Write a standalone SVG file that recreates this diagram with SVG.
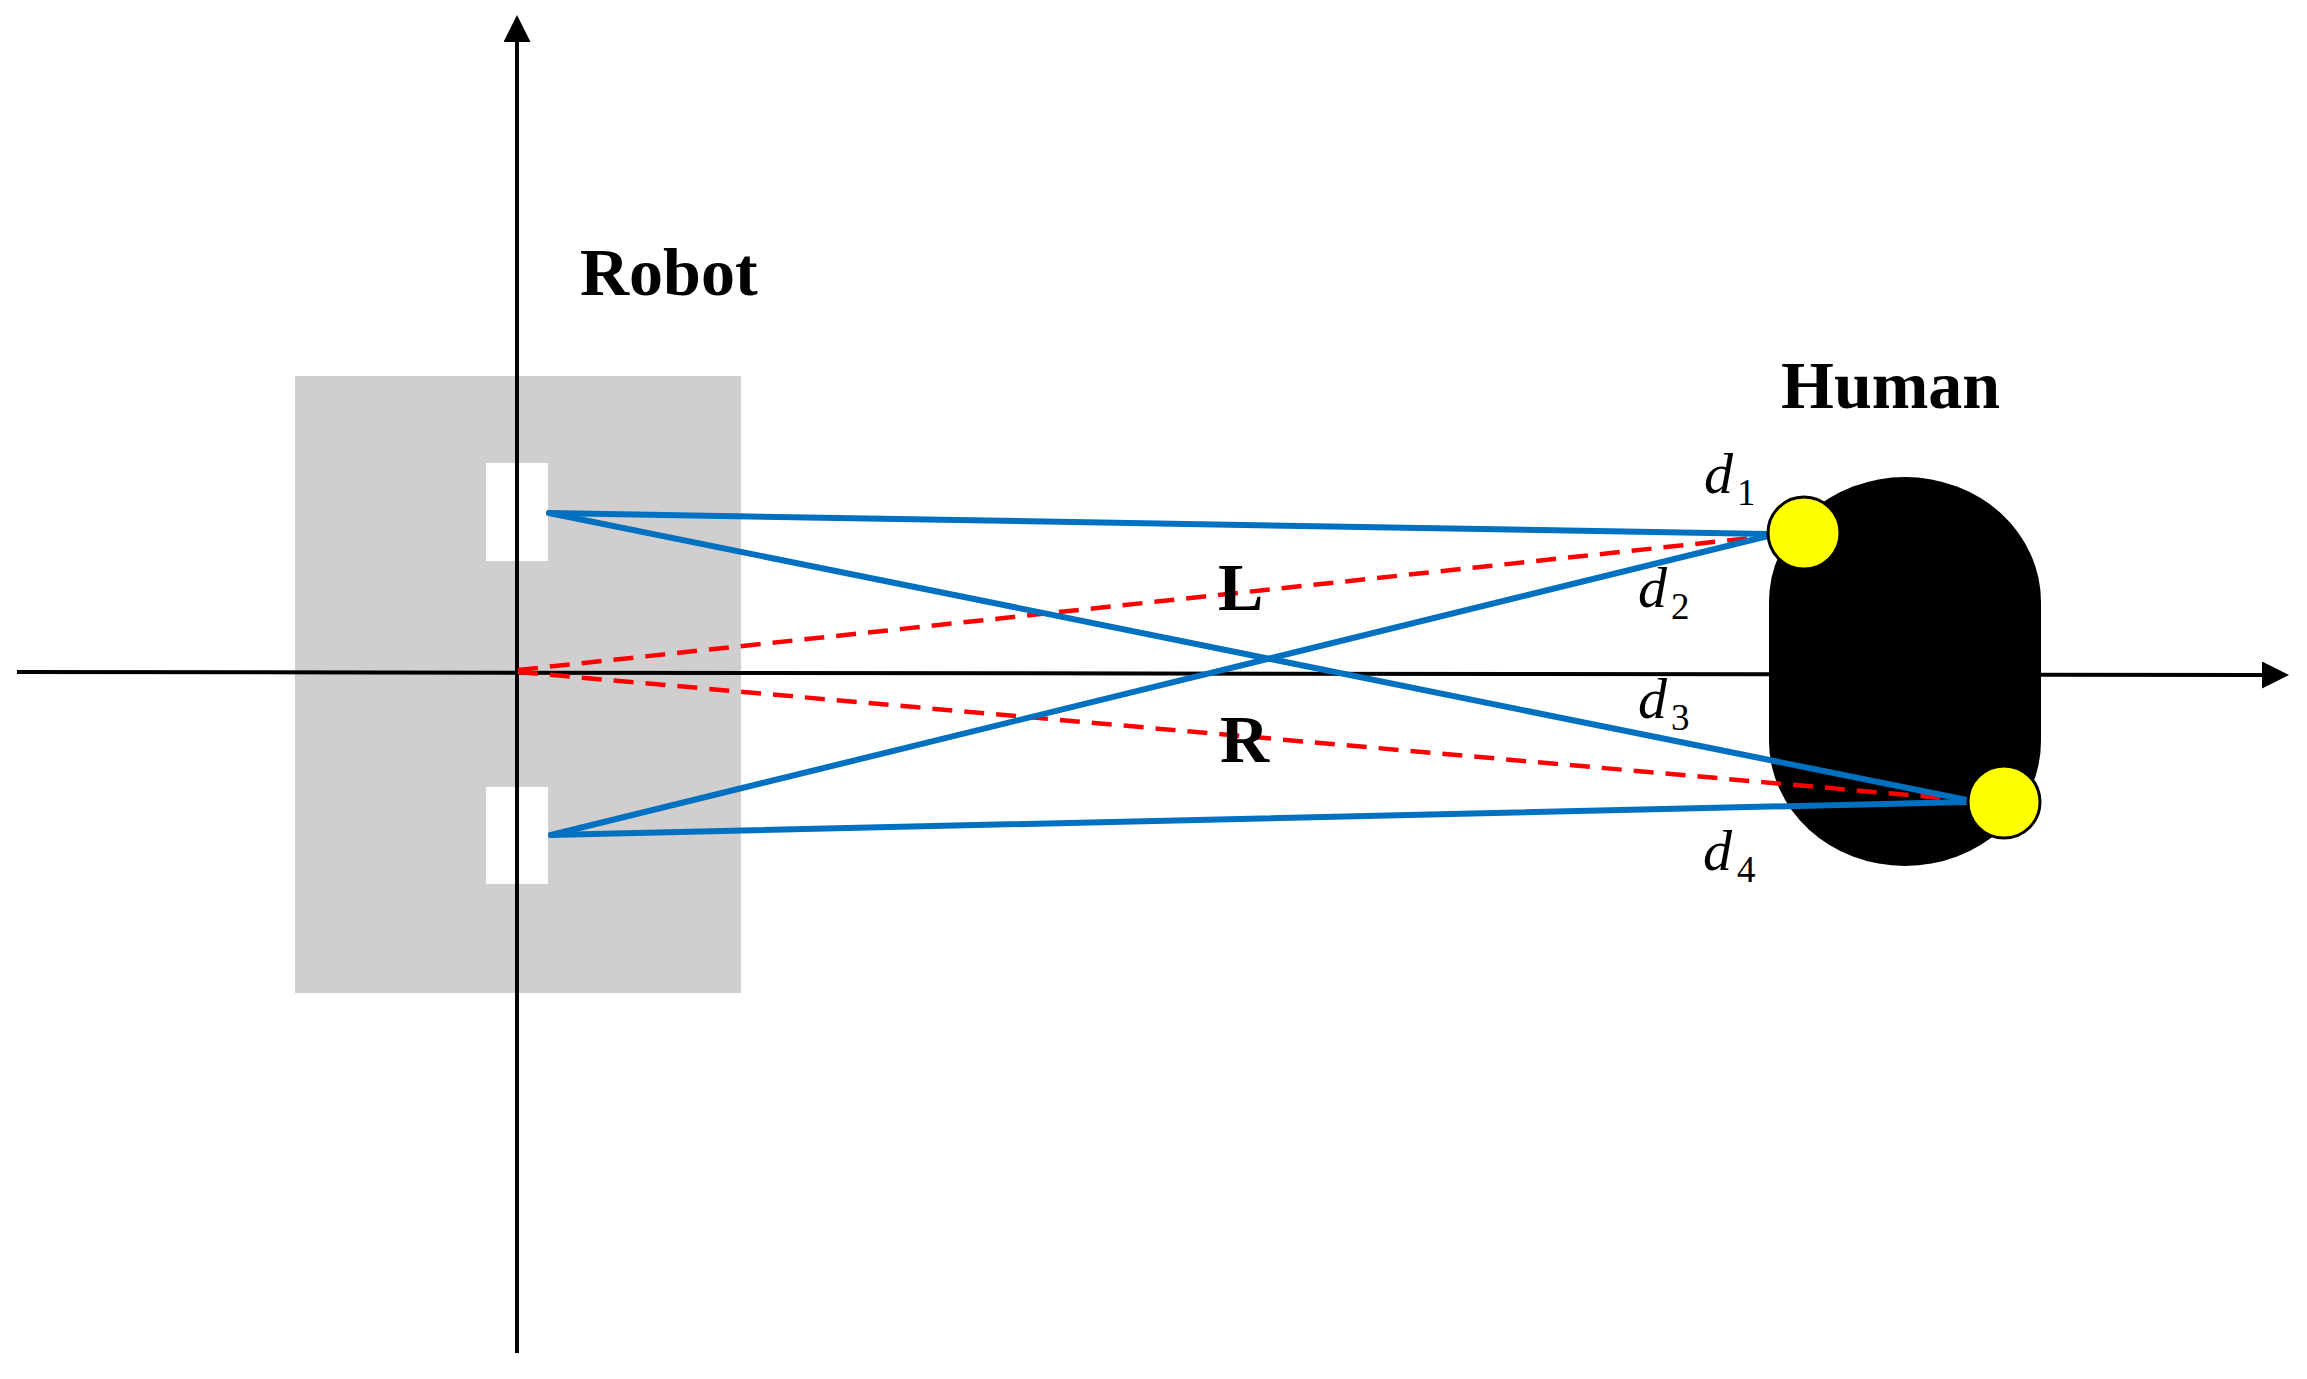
<svg xmlns="http://www.w3.org/2000/svg" width="2307" height="1379" viewBox="0 0 2307 1379">
  <style>
    .axis { stroke: #000; stroke-width: 4; fill: none; }
    .beam { stroke: #0070C0; stroke-width: 6; fill: none; stroke-linecap: round; }
    .ray { stroke: #FF0000; stroke-width: 4.5; fill: none; stroke-dasharray: 20 12; }
    .title { font-family: "Liberation Serif", "Times New Roman", serif; font-weight: bold; font-size: 68px; fill: #000; }
    .dvar { font-family: "Liberation Serif", "Times New Roman", serif; font-style: italic; font-size: 58px; fill: #000; }
    .dsub { font-family: "Liberation Serif", "Times New Roman", serif; font-size: 37px; fill: #000; }
    .marker-sensor { fill: #FFFF00; stroke: #000; stroke-width: 3; }
  </style>
  <defs>
    <marker id="arrow" markerUnits="userSpaceOnUse" markerWidth="28" markerHeight="28" refX="0" refY="13.5" orient="auto">
      <path d="M0,0 L27,13.5 L0,27 Z" fill="#000"/>
    </marker>
  </defs>
  <rect width="2307" height="1379" fill="#fff"/>

  <g id="robot">
    <rect x="295" y="376" width="446" height="617" fill="#D0CECE"/>
    <rect id="sensor-top" x="486" y="463" width="62" height="98" fill="#fff"/>
    <rect id="sensor-bottom" x="486" y="787" width="62" height="97" fill="#fff"/>
  </g>

  <g id="axes">
    <line class="axis" x1="517" y1="1353" x2="517" y2="42" marker-end="url(#arrow)"/>
    <line class="axis" x1="17" y1="672" x2="2262" y2="675" marker-end="url(#arrow)"/>
  </g>

  <g id="human">
    <rect x="1769" y="477" width="272" height="389" rx="136" ry="125" fill="#000"/>
  </g>

  <g id="connectors">
    <line class="ray" x1="518" y1="670" x2="1760" y2="537"/>
    <line class="ray" x1="518" y1="672" x2="1965" y2="800"/>
    <line class="beam" x1="549" y1="513" x2="1768" y2="534"/>
    <line class="beam" x1="549" y1="513" x2="1967" y2="800"/>
    <line class="beam" x1="551" y1="835" x2="1768" y2="536"/>
    <line class="beam" x1="551" y1="835" x2="1967" y2="802"/>
  </g>

  <g id="human-markers">
    <circle id="marker-1" class="marker-sensor" cx="1804" cy="533" r="36"/>
    <circle id="marker-2" class="marker-sensor" cx="2004" cy="802" r="36"/>
  </g>

  <g id="labels">
    <text class="title" x="580" y="295">Robot</text>
    <text class="title" x="1781" y="408">Human</text>
    <text class="title" x="1218" y="610">L</text>
    <text class="title" x="1220" y="762">R</text>
    <text class="dvar" x="1704" y="493">d</text><text class="dsub" x="1737" y="505">1</text>
    <text class="dvar" x="1638" y="607">d</text><text class="dsub" x="1671" y="619">2</text>
    <text class="dvar" x="1638" y="718">d</text><text class="dsub" x="1671" y="730">3</text>
    <text class="dvar" x="1703" y="870">d</text><text class="dsub" x="1737" y="882">4</text>
  </g>
</svg>
